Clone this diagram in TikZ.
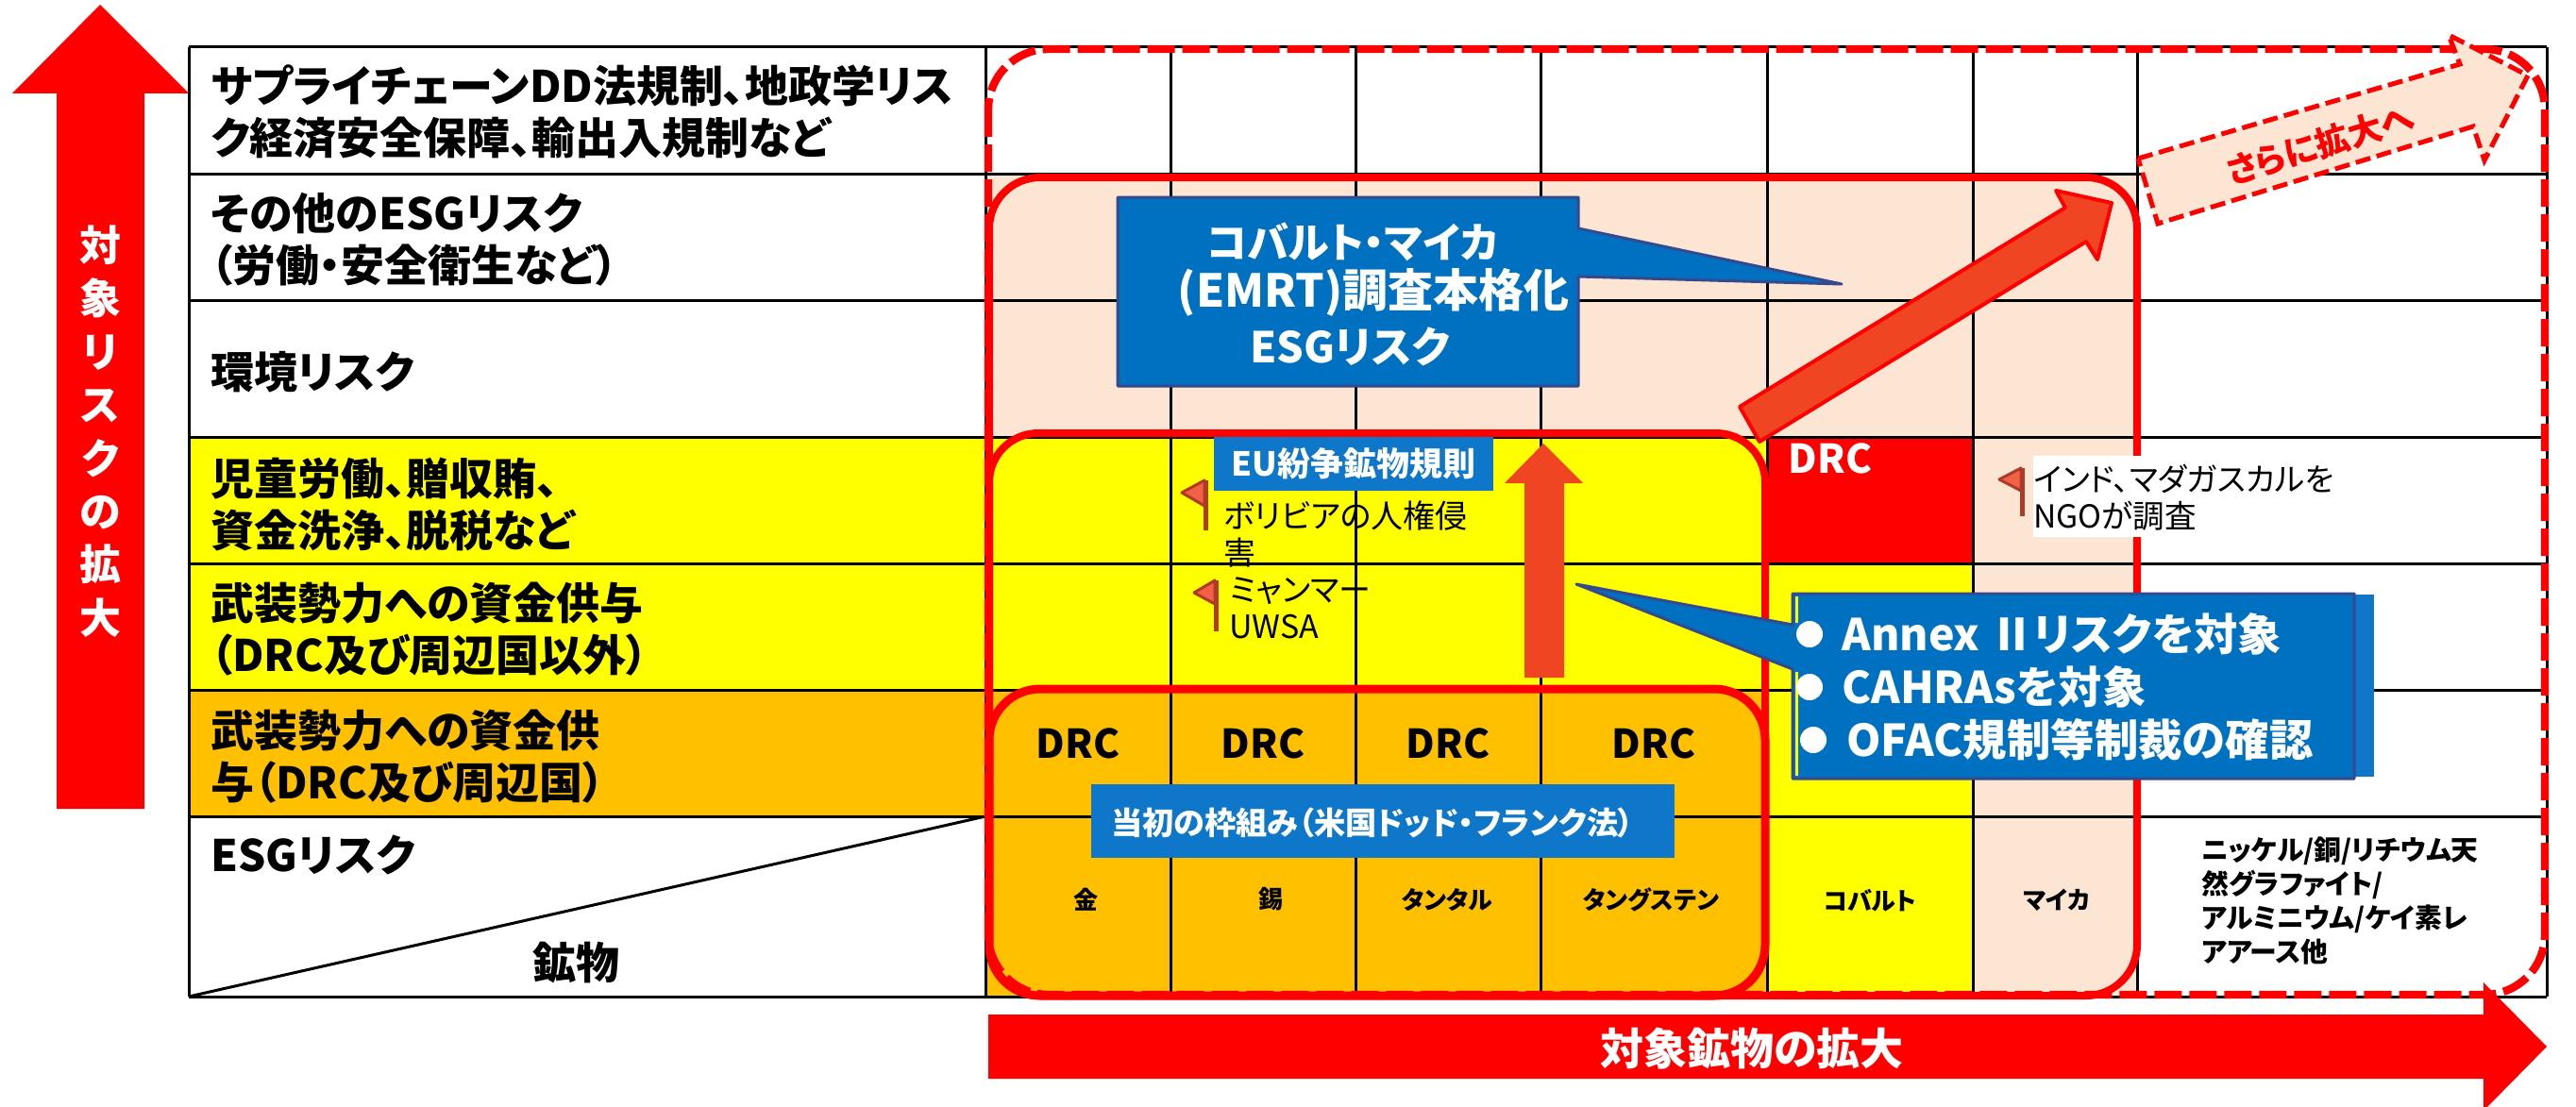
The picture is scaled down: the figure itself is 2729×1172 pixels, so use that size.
\documentclass[tikz,border=0pt]{standalone}
\usepackage{fontspec}
\setmainfont{Noto Sans CJK JP}[RawFeature=+palt]
\definecolor{peach}{HTML}{FDE5D3}
\definecolor{orng}{HTML}{FFC000}
\definecolor{pureyellow}{RGB}{255,255,0}
\definecolor{purered}{RGB}{255,0,0}
\definecolor{pblue}{HTML}{0070C0}
\definecolor{lblue}{HTML}{0E77CA}
\definecolor{edgeblue}{HTML}{35498F}
\definecolor{arrowred}{HTML}{F04523}
\definecolor{flagred}{HTML}{B03A2A}
\newcommand{\fsz}[2]{\fontsize{#1}{#2}\selectfont}
\tikzset{
  gridline/.style={draw=black,line width=1.5pt},
  frameline/.style={draw=purered,line width=4pt},
  dashframe/.style={draw=purered,line width=4.2pt,dash pattern=on 14.5pt off 4pt},
  rowlabel/.style={anchor=west,align=left,inner sep=0pt,font=\fsz{23}{27.5}\bfseries},
  drclabel/.style={inner sep=0pt,font=\fsz{21}{25}\bfseries},
  minlabel/.style={inner sep=0pt,font=\fsz{13}{18}\bfseries},
  notelabel/.style={anchor=west,align=left,inner sep=0pt,font=\fsz{17}{19.5}},
  calloutbg/.style={fill=pblue,draw=edgeblue,line width=1.5pt,line join=round},
  whitebold/.style={text=white,inner sep=0pt,font=\fsz{24}{27.5}\bfseries},
  bluebox/.style={fill=lblue,inner sep=0pt},
  bullet/.style={circle,fill=white,inner sep=0pt,minimum size=14pt},
  flagpole/.style={draw=flagred,line width=2.5pt},
  flagcloth/.style={fill=arrowred!85!white,draw=flagred,line width=1.5pt,line join=round}
}
\begin{document}
\begin{tikzpicture}[x=0.5pt,y=-0.5pt]
\useasboundingbox (0,0) rectangle (2729,1172);
\fill[white] (0,0) rectangle (2729,1172);
% cell fills
\fill[peach] (1044,184) rectangle (2264,463);
\fill[pureyellow] (200,463) rectangle (1872,731);
\fill[purered] (1872,463) rectangle (2090,597);
\fill[peach] (2090,463) rectangle (2264,1056);
\fill[pureyellow] (1872,597) rectangle (2090,1056);
\fill[orng] (200,731) rectangle (1872,865);
\fill[orng] (1044,865) rectangle (1872,1056);
% grid
\foreach \yy in {50,184,318,463,597,731,865,1056}{\draw[gridline] (200,\yy) -- (2698,\yy);}
\foreach \xx in {200,1044,1240,1436,1632,1872,2090,2264,2698}{\draw[gridline] (\xx,50) -- (\xx,1056);}
\draw[gridline] (200,1056) -- (1044,865);
% left arrow
\fill[purered] (106,5) -- (200,99) -- (153,99) -- (153,857) -- (60,857) -- (60,99) -- (13,99) -- cycle;
\node[text=white,inner sep=0pt,align=center,font=\fsz{22}{28.2}\bfseries] (riskaxis) at (106,457) {対\\象\\リ\\ス\\ク\\の\\拡\\大};
% row labels
\node[rowlabel] (r1) at (223,119) {サプライチェーンDD法規制、地政学リス\\ク経済安全保障、輸出入規制など};
\node[rowlabel] (r2) at (223,254) {その他のESGリスク\\（労働・安全衛生など）};
\node[rowlabel] (r3) at (223,394) {環境リスク};
\node[rowlabel] (r4) at (223,535) {児童労働、贈収賄、\\資金洗浄、脱税など};
\node[rowlabel] (r5) at (223,667) {武装勢力への資金供与\\（DRC及び周辺国以外）};
\node[rowlabel] (r6) at (223,802) {武装勢力への資金供\\与（DRC及び周辺国）};
\node[rowlabel] (r7) at (223,906) {ESGリスク};
\node[rowlabel,anchor=center] (r8) at (610,1020) {鉱物};
% frames
\draw[dashframe,rounded corners=32pt] (1047,52) rectangle (2696,1054);
\draw[frameline,rounded corners=27pt] (1048,188) rectangle (2264,1055);
\draw[frameline,rounded corners=26pt] (1048,459) rectangle (1870,1055);
\draw[frameline,line width=4.5pt,rounded corners=27pt] (1048,730) rectangle (1870,1055);
% DRC
\node[drclabel] (d1) at (1142,788) {DRC};
\node[drclabel] (d2) at (1338,788) {DRC};
\node[drclabel] (d3) at (1534,788) {DRC};
\node[drclabel] (d4) at (1752,788) {DRC};
\node[drclabel,text=white] (d5) at (1939,486) {DRC};
% minerals
\node[minlabel] (m1) at (1150,953) {金};
\node[minlabel] (m2) at (1346,953) {錫};
\node[minlabel] (m3) at (1533,953) {タンタル};
\node[minlabel] (m4) at (1749,953) {タングステン};
\node[minlabel] (m5) at (1981,954) {コバルト};
\node[minlabel] (m6) at (2179,954) {マイカ};
\node[minlabel,anchor=west,align=left,font=\fsz{14.4}{18}\bfseries] (m7) at (2332,955) {ニッケル/銅/リチウム天\\然グラファイト/\\アルミニウム/ケイ素レ\\アアース他};
% bottom arrow
\fill[purered] (1047,1075) -- (2631,1075) -- (2631,1041) -- (2698,1109) -- (2631,1177) -- (2631,1143) -- (1047,1143) -- cycle;
\node[whitebold,font=\fsz{23}{27}\bfseries] (mineralaxis) at (1856,1111) {対象鉱物の拡大};
% vertical arrow
\fill[arrowred] (1635,470) -- (1677,512) -- (1657,512) -- (1657,718) -- (1615,718) -- (1615,512) -- (1594,512) -- cycle;
% diagonal arrow
\draw[fill=arrowred,draw=purered,line width=2pt,line join=round] (1843,431) -- (2188,220) -- (2178,202) -- (2237,215) -- (2222,275) -- (2210,256) -- (1864,468) -- cycle;
% dashed arrow
\draw[fill=peach,draw=purered,line width=2.5pt,dash pattern=on 8pt off 3.5pt] (2265,168) -- (2606,68) -- (2594,37) -- (2678,80) -- (2632,170) -- (2620,134) -- (2286,237) -- cycle;
\node[text=purered,inner sep=0pt,rotate=17,font=\fsz{18}{22}\bfseries] (further) at (2458,153) {さらに拡大へ};
% callout 1
\draw[calloutbg] (1184,209) -- (1672,209) -- (1672,242) -- (1951,301) -- (1672,293) -- (1672,409) -- (1184,409) -- cycle;
\node[whitebold,font=\fsz{22}{27}\bfseries] (c1a) at (1433,256) {コバルト・マイカ};
\node[whitebold] (c1b) at (1455,310) {(EMRT)調査本格化};
\node[whitebold,font=\fsz{22.5}{27}\bfseries] (c1c) at (1430,367) {ESGリスク};
% callout 2
\fill[lblue] (2480,630) rectangle (2515,823);
\draw[calloutbg] (1899,629) -- (2494,629) -- (2494,825) -- (1899,825) -- (1899,709) -- (1670,619) -- (1899,662) -- cycle;
\draw[pureyellow,line width=1.5pt] (1903,632) -- (1903,660);
\draw[pureyellow,line width=1.5pt] (1903,712) -- (1903,822);
\node[bullet] (b1) at (1917,672) {};
\node[bullet] (b2) at (1917,728) {};
\node[bullet] (b3) at (1921,784) {};
\node[whitebold,anchor=west,font=\fsz{23.2}{27}\bfseries] (c2a) at (1951,672) {Annex Ⅱリスクを対象};
\node[whitebold,anchor=west,font=\fsz{23.2}{27}\bfseries] (c2b) at (1951,728) {CAHRAsを対象};
\node[whitebold,anchor=west,font=\fsz{23.2}{27}\bfseries] (c2c) at (1956,784) {OFAC規制等制裁の確認};
% blue boxes
\node[bluebox,minimum width=148pt,minimum height=28.5pt,text=white,font=\fsz{17.5}{20}\bfseries] (eu) at (1434,491.5) {EU紛争鉱物規則};
\node[bluebox,minimum width=309pt,minimum height=39pt] (us) at (1465,870) {};
\node[text=white,anchor=west,inner sep=0pt,font=\fsz{16.6}{20}\bfseries] (ustext) at (1177,872) {当初の枠組み（米国ドッド・フランク法）};
% note labels
\fill[white] (2154,483) rectangle (2480,569);
\node[notelabel,font=\fsz{16.8}{19.5}] (n3) at (2154,527) {インド、マダガスカルを\\NGOが調査};
\node[notelabel] (n1) at (1296,566) {ボリビアの人権侵\\害};
\node[notelabel] (n2) at (1302,644) {ミャンマー\\UWSA};
% flags
\draw[flagpole] (1277,509) -- (1277,562);
\draw[flagcloth] (1276,509) -- (1252,522) -- (1276,536) -- cycle;
\draw[flagpole] (1288,615) -- (1288,669);
\draw[flagcloth] (1287,615) -- (1265,628) -- (1287,640) -- cycle;
\draw[flagpole] (2142,496) -- (2142,547);
\draw[flagcloth] (2141,496) -- (2118,508) -- (2141,520) -- cycle;
\end{tikzpicture}
\end{document}
